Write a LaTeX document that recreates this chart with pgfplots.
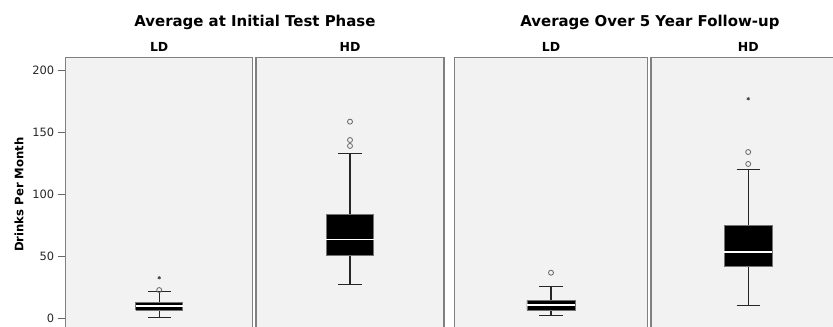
\documentclass[border=0pt]{standalone}
\usepackage{pgfplots}
\pgfplotsset{compat=1.18}
\usepackage{fontspec}
\setmainfont{DejaVu Sans}
\begin{document}
\begin{tikzpicture}
\useasboundingbox (0bp,0bp) rectangle (833bp,327bp);
\pgfplotsset{
  panel/.style={
    scale only axis, anchor=north west,
    height=273.8bp, ymin=-10, ymax=210.8, xmin=0, xmax=1,
    xtick=\empty, ytick=\empty,
    axis line style={black!50, line width=1.3bp},
    axis background/.style={fill=black!5},
  },
  whisk/.style={draw=black!85, line width=1.2bp, mark=none},
  boxs/.style={fill=black, draw=black!55, line width=0.6bp, mark=none},
  med/.style={draw=white, line width=1.6bp, mark=none},
  circ/.style={only marks, mark=o, mark size=2.5bp, mark options={draw=black!60, line width=0.8bp}},
  star/.style={only marks, mark=asterisk, mark size=1.7bp, mark options={draw=black!75, line width=0.7bp}},
}
% Panel 1: Initial, LD  (lw 0.8, q1 7, med 10.2, q3 12.9, uw 21.8)
\begin{axis}[panel, at={(65.7bp,269.7bp)}, width=187bp,
  ytick={0,50,100,150,200}, ytick pos=left, tick align=outside,
  major tick length=8bp, tick style={black!60, line width=0.9bp},
  /pgf/number format/assume math mode=true,
  yticklabel style={font=\fontsize{11.5}{12}\selectfont, color=black!85}]
\addplot[whisk] coordinates {(0.5,0.8) (0.5,7)};
\addplot[whisk] coordinates {(0.5,12.9) (0.5,21.8)};
\addplot[whisk] coordinates {(0.438,0.8) (0.562,0.8)};
\addplot[whisk] coordinates {(0.438,21.8) (0.562,21.8)};
\addplot[boxs] coordinates {(0.374,7) (0.626,7) (0.626,12.9) (0.374,12.9) (0.374,7)};
\addplot[med] coordinates {(0.374,10.2) (0.626,10.2)};
\addplot[circ] coordinates {(0.5,23.1)};
\addplot[star] coordinates {(0.5,33)};
\end{axis}
% Panel 2: Initial, HD  (lw 27.7, q1 50.8, med 64, q3 83.9, uw 133)
\begin{axis}[panel, at={(256bp,269.7bp)}, width=188bp]
\addplot[whisk] coordinates {(0.5,27.7) (0.5,50.8)};
\addplot[whisk] coordinates {(0.5,83.9) (0.5,133)};
\addplot[whisk] coordinates {(0.438,27.7) (0.562,27.7)};
\addplot[whisk] coordinates {(0.438,133) (0.562,133)};
\addplot[boxs] coordinates {(0.374,50.8) (0.626,50.8) (0.626,83.9) (0.374,83.9) (0.374,50.8)};
\addplot[med] coordinates {(0.374,64) (0.626,64)};
\addplot[circ] coordinates {(0.5,139.3) (0.5,144.1) (0.5,158.9)};
\end{axis}
% Panel 3: Follow-up, LD  (lw 2.7, q1 7, med 11, q3 14.5, uw 25.8)
\begin{axis}[panel, at={(454.3bp,269.7bp)}, width=193.4bp]
\addplot[whisk] coordinates {(0.5,2.7) (0.5,7)};
\addplot[whisk] coordinates {(0.5,14.5) (0.5,25.8)};
\addplot[whisk] coordinates {(0.44,2.7) (0.56,2.7)};
\addplot[whisk] coordinates {(0.44,25.8) (0.56,25.8)};
\addplot[boxs] coordinates {(0.375,7) (0.625,7) (0.625,14.5) (0.375,14.5) (0.375,7)};
\addplot[med] coordinates {(0.375,11) (0.625,11)};
\addplot[circ] coordinates {(0.5,37.1)};
\end{axis}
% Panel 4: Follow-up, HD  (lw 10.8, q1 42.5, med 54, q3 75.3, uw 120.5)
\begin{axis}[panel, at={(651bp,269.7bp)}, width=194.4bp]
\addplot[whisk] coordinates {(0.5,10.8) (0.5,42.5)};
\addplot[whisk] coordinates {(0.5,75.3) (0.5,120.5)};
\addplot[whisk] coordinates {(0.44,10.8) (0.56,10.8)};
\addplot[whisk] coordinates {(0.44,120.5) (0.56,120.5)};
\addplot[boxs] coordinates {(0.376,42.5) (0.624,42.5) (0.624,75.3) (0.376,75.3) (0.376,42.5)};
\addplot[med] coordinates {(0.376,54) (0.624,54)};
\addplot[circ] coordinates {(0.5,124.8) (0.5,134.4)};
\addplot[star] coordinates {(0.5,177.4)};
\end{axis}
% Titles
\node[anchor=base, font=\fontsize{15}{18}\selectfont\bfseries] at (254.9bp,300.3bp) {Average at Initial Test Phase};
\node[anchor=base, font=\fontsize{15}{18}\selectfont\bfseries] at (649.9bp,300.3bp) {Average Over 5 Year Follow-up};
\node[anchor=base, font=\fontsize{12.5}{15}\selectfont\bfseries] at (159.2bp,275.3bp) {LD};
\node[anchor=base, font=\fontsize{12.5}{15}\selectfont\bfseries] at (350.0bp,275.3bp) {HD};
\node[anchor=base, font=\fontsize{12.5}{15}\selectfont\bfseries] at (551.0bp,275.3bp) {LD};
\node[anchor=base, font=\fontsize{12.5}{15}\selectfont\bfseries] at (748.2bp,275.3bp) {HD};
\node[rotate=90, font=\fontsize{11.7}{14}\selectfont\bfseries] at (19bp,132.5bp) {Drinks Per Month};
\end{tikzpicture}
\end{document}
